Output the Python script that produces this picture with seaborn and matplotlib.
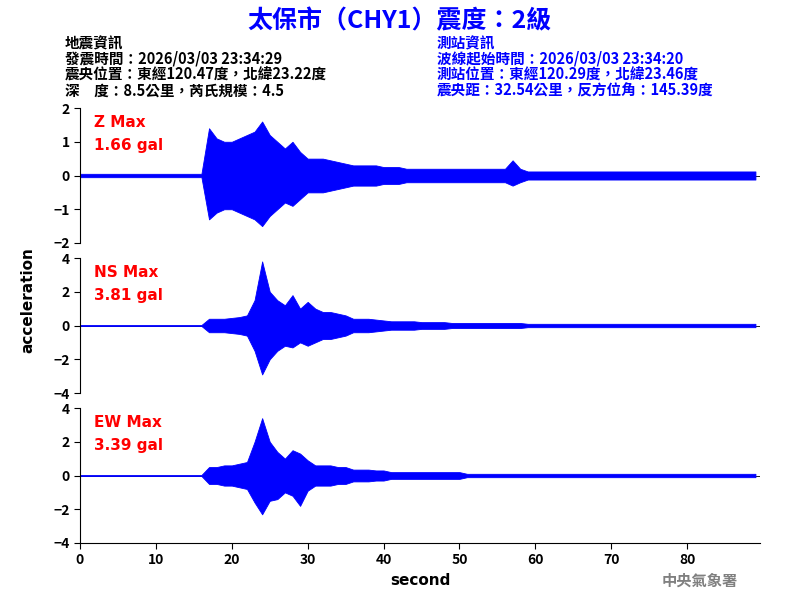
import numpy as np
import matplotlib
matplotlib.use("Agg")
import matplotlib.pyplot as plt
import seaborn as sns

sns.set_style("white")
plt.rcParams['font.family'] = ['Noto Sans CJK TC', 'DejaVu Sans']
plt.rcParams.update({"text.color": "black", "axes.labelcolor": "black",
                     "xtick.color": "black", "ytick.color": "black"})

# seconds (1 s bins) and envelope peaks
seconds = list(range(90))
pre = 17
z_up = [0.05]*pre + [1.4, 1.1, 1.0, 1.0, 1.1, 1.2, 1.3, 1.6, 1.2, 1.0, 0.8, 1.0, 0.7, 0.5, 0.5, 0.5, 0.45, 0.4, 0.35,
        0.3, 0.3, 0.3, 0.3, 0.25, 0.25, 0.25, 0.2, 0.2, 0.2, 0.2, 0.2, 0.2, 0.2, 0.2, 0.2, 0.2, 0.2, 0.2, 0.2, 0.2, 0.45,
        0.2] + [0.12]*31
z_lo = [-0.05]*pre + [-1.3, -1.1, -1.0, -1.0, -1.1, -1.2, -1.3, -1.5, -1.2, -1.0, -0.8, -0.9, -0.7, -0.5, -0.5, -0.5,
        -0.45, -0.4, -0.35, -0.3, -0.3, -0.3, -0.3, -0.25, -0.25, -0.25, -0.2, -0.2, -0.2, -0.2, -0.2, -0.2, -0.2, -0.2,
        -0.2, -0.2, -0.2, -0.2, -0.2, -0.2, -0.3, -0.2] + [-0.12]*31
ns_up = [0.03]*pre + [0.4, 0.4, 0.4, 0.45, 0.5, 0.6, 1.5, 3.8, 2.0, 1.5, 1.2, 1.8, 1.0, 1.4, 1.0, 0.8, 0.8, 0.7, 0.6,
         0.4, 0.4, 0.4, 0.35, 0.3, 0.25, 0.25, 0.25, 0.25, 0.2, 0.2, 0.2, 0.2] + [0.15]*10 + [0.1]*31
ns_lo = [-0.03]*pre + [-0.4, -0.4, -0.4, -0.45, -0.5, -0.6, -1.5, -2.9, -2.0, -1.5, -1.2, -1.3, -1.0, -1.2, -1.0, -0.8,
         -0.8, -0.7, -0.6, -0.4, -0.4, -0.4, -0.35, -0.3, -0.25, -0.25, -0.25, -0.25, -0.2, -0.2, -0.2, -0.2] \
        + [-0.15]*10 + [-0.1]*31
ew_up = [0.03]*pre + [0.5, 0.5, 0.6, 0.6, 0.7, 0.8, 2.0, 3.4, 2.0, 1.4, 1.0, 1.5, 1.3, 0.9, 0.6, 0.6, 0.6, 0.5, 0.5,
         0.35, 0.35, 0.35, 0.3, 0.3, 0.2, 0.2, 0.2, 0.2, 0.2, 0.2, 0.2, 0.2, 0.2, 0.2] + [0.1]*39
ew_lo = [-0.03]*pre + [-0.5, -0.5, -0.6, -0.6, -0.7, -0.8, -1.6, -2.3, -1.5, -1.4, -1.0, -1.2, -1.8, -0.9, -0.6, -0.6,
         -0.6, -0.5, -0.5, -0.35, -0.35, -0.35, -0.3, -0.3, -0.2, -0.2, -0.2, -0.2, -0.2, -0.2, -0.2, -0.2, -0.2,
         -0.2] + [-0.1]*39
channels = [("Z Max", "1.66 gal", z_up, z_lo, 2), ("NS Max", "3.81 gal", ns_up, ns_lo, 4),
            ("EW Max", "3.39 gal", ew_up, ew_lo, 4)]

fig = plt.figure(figsize=(8, 6), dpi=100)
bottoms = [0.595, 0.345, 0.095]
for i, (name, peak, up, lo, lim) in enumerate(channels):
    ax = fig.add_axes([0.1, bottoms[i], 0.85, 0.225])
    ax.fill_between(seconds, lo, up, color="blue", lw=0.6)
    ax.axhline(0, color="black", lw=0.6, zorder=0)
    ax.set_xlim(0, 89.6)
    ax.set_ylim(-lim, lim)
    ax.set_yticks(range(-lim, lim + 1, 1 if lim == 2 else 2))
    ax.tick_params(axis="y", labelsize=10, length=4, left=True, direction="out")
    for lbl in ax.get_yticklabels():
        lbl.set_fontweight("bold")
    sns.despine(ax=ax, top=True, right=True, bottom=(i < 2))
    ax.spines['left'].set_color('black')
    ax.text(0.02, 0.95, name, transform=ax.transAxes, color="red", fontsize=11, fontweight="bold", va="top",
            family="DejaVu Sans")
    ax.text(0.02, 0.78, peak, transform=ax.transAxes, color="red", fontsize=11, fontweight="bold", va="top",
            family="DejaVu Sans")
    if i < 2:
        ax.set_xticks([])
    else:
        ax.spines['bottom'].set_color('black')
        ax.set_xticks(range(0, 90, 10))
        ax.tick_params(axis="x", labelsize=10, length=4, bottom=True)
        for lbl in ax.get_xticklabels():
            lbl.set_fontweight("bold")
        ax.set_xlabel("second", fontsize=11, fontweight="bold", family="DejaVu Sans")

fig.text(0.035, 0.5, "acceleration", rotation=90, va="center", ha="center", fontsize=11, fontweight="bold",
         family="DejaVu Sans")
fig.text(0.5, 0.965, "太保市（CHY1）震度：2級", ha="center", va="center", color="blue", fontsize=18,
         fontweight="bold")
left = ["地震資訊", "發震時間：2026/03/03 23:34:29", "震央位置：東經120.47度，北緯23.22度", "深　度：8.5公里，芮氏規模：4.5"]
right = ["測站資訊", "波線起始時間：2026/03/03 23:34:20", "測站位置：東經120.29度，北緯23.46度",
         "震央距：32.54公里，反方位角：145.39度"]
for k, (a, b) in enumerate(zip(left, right)):
    y = 1 - (43 + 16 * k) / 600
    fig.text(0.081, y, a, va="center", fontsize=10.5, fontweight="bold", color="black")
    fig.text(0.546, y, b, va="center", fontsize=10.5, fontweight="bold", color="blue")
fig.text(0.875, 0.032, "中央氣象署", ha="center", va="center", color="gray", fontsize=11, fontweight="bold")

fig.savefig("out.png", dpi=100)
